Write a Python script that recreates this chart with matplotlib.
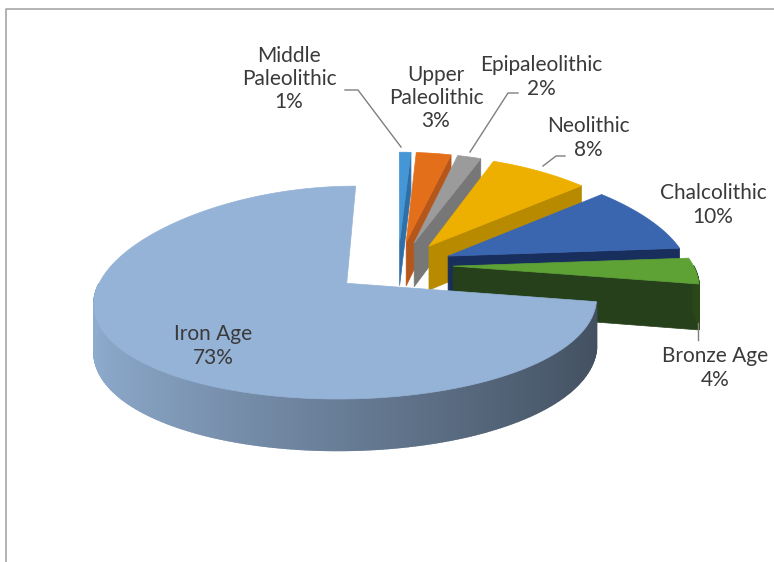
import numpy as np
import matplotlib
matplotlib.use('Agg')
import matplotlib.pyplot as plt
from matplotlib.patches import Polygon
from matplotlib.colors import to_rgb

# ---------------- data ----------------
categories = ['Middle\nPaleolithic', 'Upper\nPaleolithic', 'Epipaleolithic',
              'Neolithic', 'Chalcolithic', 'Bronze Age', 'Iron Age']
values = [1, 3, 2, 8, 10, 4, 73]
pct_labels = ['1%', '3%', '2%', '8%', '10%', '4%', '73%']

top_colors = ['#4496D6', '#E46F1B', '#9B9B9B', '#EEB000', '#3A66B0', '#5EA236', '#95B3D7']
face_colors = ['#2F6FA8', '#B5561A', '#777777', '#B88A00', '#182E5C', '#25401A', '#5B7290']
explode = [55, 55, 55, 55, 55, 55, 65]

# --------------- geometry / style ----------------
CX, CY = 398.0, 265.0
R = 240.0
T = 0.43
KX, KY, KZ = 0.18, 0.09, 0.12
DEPTH = 45.0


def proj(u, v, z=0.0):
    s = v / R
    X = CX + u * (1 - KX * s)
    Y = CY - T * v * (1 - KY * s) + z * DEPTH * (1 - KZ * s)
    return X, Y


def shade(color, f):
    r, g, b = to_rgb(color)
    return (min(r * f, 1), min(g * f, 1), min(b * f, 1))


fig = plt.figure(figsize=(7.74, 5.62), dpi=100)
ax = fig.add_axes([0, 0, 1, 1])
ax.set_xlim(0, 774)
ax.set_ylim(562, 0)
ax.axis('off')

# frame
ax.plot([6, 6, 774], [562, 9, 9], color='#A6A6A6', lw=1.2, zorder=1)

total = float(sum(values))
fracs = [v / total for v in values]
starts = np.concatenate([[0], np.cumsum(fracs)[:-1]]) * 360.0
ends = np.cumsum(fracs) * 360.0


def draw_slice(i, z0):
    t1, t2 = np.radians(starts[i]), np.radians(ends[i])
    mid = 0.5 * (t1 + t2)
    ou, ov = explode[i] * np.sin(mid), explode[i] * np.cos(mid)
    n = max(8, int((t2 - t1) / np.radians(0.5)))
    th = np.linspace(t1, t2, n)
    au, av = ou + R * np.sin(th), ov + R * np.cos(th)
    visible = []
    # radial faces turned towards the viewer
    for tt, is_right in ((t1, False), (t2, True)):
        pu, pv = ou + R * np.sin(tt), ov + R * np.cos(tt)
        pts = [proj(ou, ov, 0), proj(pu, pv, 0), proj(pu, pv, 1), proj(ou, ov, 1)]
        vis = (np.sin(tt) > 1e-6) if is_right else (np.sin(tt) < -1e-6)
        if vis:
            visible.append((pts, face_colors[i], 0.5))
    # front part of the outer wall, segment by segment
    for k in range(n - 1):
        a, b = th[k], th[k + 1]
        m = 0.5 * (a + b)
        if np.cos(m) >= 0:
            continue
        pts = [proj(au[k], av[k], 0), proj(au[k + 1], av[k + 1], 0),
               proj(au[k + 1], av[k + 1], 1), proj(au[k], av[k], 1)]
        f = 0.70 - 0.26 * np.sin(m)
        col = shade(top_colors[i], f)
        visible.append((pts, col, 1.2))
    for pts, col, lw in visible:
        ax.add_patch(Polygon(pts, closed=True, facecolor=col, edgecolor=col,
                             lw=lw, zorder=z0 + 0.1))
    top = [proj(ou, ov, 0)] + [proj(u, v, 0) for u, v in zip(au, av)]
    ax.add_patch(Polygon(top, closed=True, facecolor=top_colors[i],
                         edgecolor=top_colors[i], lw=0.5, zorder=z0 + 0.2))


for i in range(len(values)):
    draw_slice(i, 2 + i)

# --------------- labels ----------------
label_pos = [(289, 79), (436, 98), (541, 77), (588, 138), (713, 205), (715, 368), (213, 346)]
txt_color = '#3A3A3A'
for i, (x, y) in enumerate(label_pos):
    ax.text(x, y, categories[i] + '\n' + pct_labels[i], ha='center', va='center',
            fontsize=15, family=['Lato', 'DejaVu Sans'], color=txt_color,
            linespacing=1.2, zorder=20)

lc = '#7F7F7F'
leaders = [
    ([345, 358, 401], [90, 90, 147]),
    ([518, 508, 470], [93, 93, 152]),
    ([565, 556, 543], [156, 156, 166]),
    ([698, 698], [323, 340]),
]
for xs, ys in leaders:
    ax.plot(xs, ys, color=lc, lw=1.0, zorder=19)

fig.savefig('out.png', dpi=100, facecolor='white')
